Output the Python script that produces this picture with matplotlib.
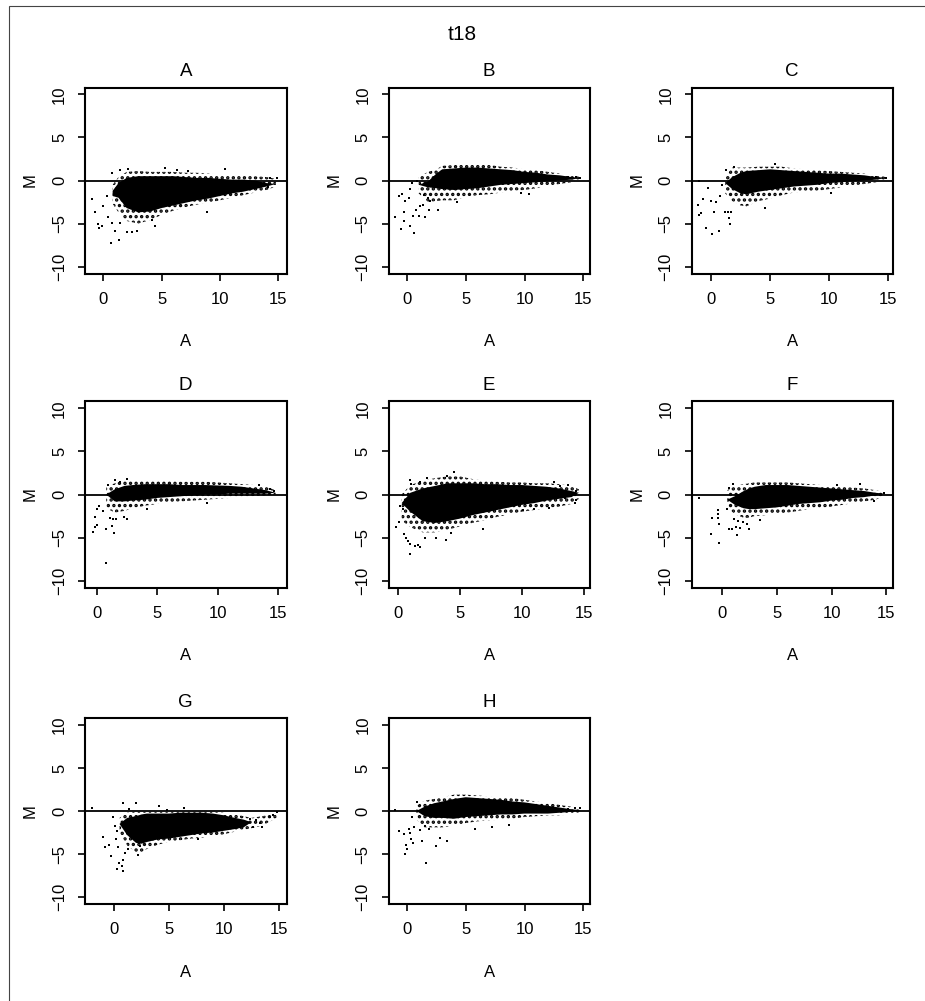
import matplotlib
matplotlib.use("Agg")
import matplotlib.pyplot as plt
from matplotlib.patches import Rectangle

plt.rcParams['font.family'] = ['Liberation Sans', 'DejaVu Sans']
plt.rcParams['hatch.linewidth'] = 1.6

TITLE = "t18"
PANELS = ["A", "B", "C", "D", "E", "F", "G", "H"]

# x range of each panel (R adds 4% to the data range)
x_limits = [(-1.57, 15.71), (-1.57, 15.57), (-1.66, 15.42), (-0.96, 15.7),
            (-0.76, 15.49), (-2.75, 15.6), (-2.64, 15.7), (-1.57, 15.57)]
y_limits = (-10.8, 10.8)
x_ticks = [0, 5, 10, 15]
y_ticks = [-10, -5, 0, 5, 10]

# dense core of each cloud (solid) and its sparser fringe
a_grid = [0.8, 1.3, 2, 3, 4, 5, 6, 7, 8, 9, 10, 11, 12, 13, 14, 14.8]
a_core_hi = [-1.2, -0.3, 0.3, 0.5, 0.5, 0.5, 0.5, 0.4, 0.3, 0.3, 0.2, 0.1, 0.1, 0.0, -0.3, -0.4]
a_core_lo = [-1.8, -2.0, -3.2, -3.7, -3.6, -3.2, -2.9, -2.6, -2.3, -2.1, -1.8, -1.5, -1.3, -1.0, -0.7, -0.4]
a_edge_hi = [-0.5, 0.4, 1.0, 1.1, 1.0, 1.0, 1.0, 0.9, 0.9, 0.8, 0.7, 0.6, 0.6, 0.5, 0.4, 0.2]
a_edge_lo = [-2.7, -3.7, -4.7, -5.0, -4.6, -4.0, -3.5, -3.1, -2.8, -2.6, -2.3, -2.0, -1.7, -1.4, -1.1, -0.7]
a_out_x = [-1.0, -0.71, -0.43, -0.34, -0.14, 0, 0.43, 0.63, 1.37, 0.29, 0.71, 1.0, 1.43, 2.0, 2.43, 2.86,
           4.43, 4.14, 8.86, 0.71, 1.43, 2.14, 5.3, 6.3, 7.3, 10.4, 14.3, 14.86, 14.14, 13.6]
a_out_y = [-2.2, -3.6, -5.1, -5.5, -5.3, -3.0, -4.2, -7.3, -6.9, -1.85, -4.9, -5.9, -4.9, -6.0, -6.0, -5.9,
           -5.3, -4.6, -3.6, 0.85, 1.2, 1.35, 1.4, 1.2, 1.15, 1.35, 0.3, 0.3, -0.7, -0.5]

b_grid = [1.0, 1.8, 2.5, 3, 4, 5, 6, 7, 8, 9, 10, 11, 12, 13, 14, 14.8]
b_core_hi = [-0.5, -0.1, 0.8, 1.3, 1.4, 1.5, 1.5, 1.4, 1.3, 1.2, 1.0, 0.9, 0.7, 0.6, 0.4, 0.3]
b_core_lo = [-0.5, -0.8, -0.9, -1.0, -1.1, -1.0, -0.9, -0.7, -0.5, -0.4, -0.3, -0.2, -0.1, 0.0, 0.1, 0.3]
b_edge_hi = [0.4, 1.0, 1.3, 1.7, 1.8, 1.9, 1.9, 1.8, 1.6, 1.5, 1.3, 1.2, 1.0, 0.8, 0.6, 0.4]
b_edge_lo = [-1.5, -2.5, -2.4, -2.3, -2.3, -1.9, -1.7, -1.6, -1.4, -1.2, -1.1, -0.9, -0.6, -0.4, -0.2, 0.1]
b_out_x = [-1.0, -0.71, -0.43, -0.29, -0.51, -0.29, -0.14, 0.14, 0.29, 0.29, 0.63, 0.51, 0.8, 1.0, 1.14,
           1.37, 1.57, 1.86, 2.66, 0.43, 0.86, 1.43, 1.77, 2.0, 4.29, 9.7, 10.4, 13.7, 14.4, 14.7]
b_out_y = [-4.2, -1.8, -1.55, -3.7, -5.6, -4.7, -2.4, -2.05, -1.0, -5.3, -6.1, -4.1, -3.4, -4.1, -3.0,
           -2.9, -4.2, -3.4, -3.4, -0.3, -0.1, -1.7, -2.05, -2.4, -2.5, -1.5, -1.55, 0.35, 0.45, 0.3]

c_grid = [1.2, 1.8, 2.5, 3, 4, 5, 6, 7, 8, 9, 10, 11, 12, 13, 14, 14.9]
c_core_hi = [-0.3, 0.4, 0.9, 1.1, 1.2, 1.3, 1.2, 1.1, 1.0, 0.9, 0.8, 0.8, 0.7, 0.6, 0.4, 0.3]
c_core_lo = [-0.3, -1.0, -1.5, -1.6, -1.3, -1.1, -0.9, -0.7, -0.6, -0.5, -0.3, -0.2, -0.1, 0.0, 0.1, 0.3]
c_edge_hi = [0.5, 1.5, 1.5, 1.5, 1.6, 1.6, 1.6, 1.4, 1.3, 1.2, 1.1, 1.0, 0.9, 0.8, 0.6, 0.4]
c_edge_lo = [-1.5, -2.4, -2.9, -3.0, -2.4, -2.1, -1.7, -1.4, -1.3, -1.2, -1.0, -0.8, -0.6, -0.4, -0.2, 0.1]
c_out_x = [-1.09, -1.0, -0.86, -0.71, -1.0, -0.23, -0.43, 0.11, 0.26, 0, 0.43, 0.77, 0.71, 0.91, 1.2,
           1.4, 1.49, 1.57, 1.69, 1.29, 1.91, 4.6, 10.2, 14.0, 14.8, 5.4]
c_out_y = [-2.9, -4.0, -3.8, -2.2, -0.1, -0.9, -5.5, -6.2, -3.7, -2.4, -2.5, -1.85, -5.9, -0.5, -3.7,
           -3.6, -4.4, -5.0, -3.6, 1.2, 1.6, -3.2, -1.5, 0.45, 0.3, 1.9]

d_grid = [0.8, 1.5, 2.3, 3, 4, 5, 6, 7, 8, 9, 10, 11, 12, 13, 14, 14.8]
d_core_hi = [0.0, 0.6, 1.0, 1.1, 1.2, 1.2, 1.2, 1.1, 1.1, 1.1, 1.05, 1.0, 0.9, 0.7, 0.5, 0.2]
d_core_lo = [0.0, -0.8, -0.8, -0.7, -0.6, -0.4, -0.3, -0.2, -0.1, 0.0, 0.0, 0.1, 0.1, 0.1, 0.1, 0.2]
d_edge_hi = [0.9, 1.3, 1.7, 1.6, 1.6, 1.6, 1.6, 1.5, 1.5, 1.5, 1.4, 1.3, 1.2, 1.1, 0.9, 0.5]
d_edge_lo = [-1.6, -2.1, -1.9, -1.6, -1.3, -1.1, -0.9, -0.8, -0.7, -0.6, -0.5, -0.4, -0.3, -0.2, -0.1, 0.0]
d_out_x = [-0.33, -0.14, 0.06, -0.14, 0.22, 0, 0.55, 0.77, 0.77, 1.1, 1.24, 1.38, 1.43, 1.6, 2.26,
           2.53, 0.96, 1.5, 1.93, 2.53, 4.13, 9.09, 13.4, 14.3, 14.7]
d_out_y = [-4.3, -3.8, -3.5, -2.6, -1.3, -1.7, -1.9, -7.9, -4.0, -2.7, -3.65, -2.9, -4.5, -2.9, -2.6,
           -2.8, 1.15, 1.7, 1.5, 1.75, -1.7, -0.95, 1.15, 0.6, 0.4]

e_grid = [0.3, 1.0, 2.0, 3, 4, 5, 6, 7, 8, 9, 10, 11, 12, 13, 14, 14.6]
e_core_hi = [-1.0, 0.2, 0.7, 1.0, 1.3, 1.3, 1.3, 1.2, 1.2, 1.1, 1.1, 1.0, 0.9, 0.7, 0.4, 0.2]
e_core_lo = [-1.0, -2.0, -3.1, -3.3, -3.1, -2.8, -2.4, -2.1, -1.8, -1.5, -1.2, -1.0, -0.7, -0.5, -0.3, 0.2]
e_edge_hi = [0.0, 1.1, 1.6, 1.9, 2.1, 2.1, 1.8, 1.6, 1.5, 1.4, 1.4, 1.3, 1.3, 1.2, 1.0, 0.6]
e_edge_lo = [-3.0, -3.8, -4.4, -4.4, -4.1, -3.7, -3.3, -3.0, -2.6, -2.3, -2.0, -1.8, -1.6, -1.4, -1.1, -0.5]
e_out_x = [-0.19, 0.08, 0.19, 0.41, 0.46, 0.68, 0.82, 0.95, 1.0, 1.36, 1.63, 1.77, 2.17, 3.07, 3.89,
           4.27, 6.88, 0.95, 1.09, 1.82, 2.36, 3.94, 4.54, 10.05, 11.0, 12.2, 12.6, 13.1, 13.45, 13.7,
           14.4, 14.4, 14.3, 12.6]
e_out_y = [-3.8, -3.2, -1.35, -1.7, -4.6, -5.1, -5.4, -6.9, -5.7, -6.0, -5.85, -6.15, -5.1, -5.1, -5.3,
           -4.5, -4.0, 1.65, 1.2, 1.45, 1.9, 2.2, 2.6, -1.75, -1.7, -1.55, -0.4, 0.95, -0.4, 1.1,
           0.4, -0.6, -1.0, 1.5]

f_grid = [0.5, 1.2, 2.0, 2.5, 3, 4, 5, 6, 7, 8, 9, 10, 11, 12, 13, 14, 14.8]
f_core_hi = [-0.6, -0.2, 0.4, 0.7, 0.9, 1.1, 1.1, 1.1, 1.0, 0.9, 0.8, 0.7, 0.6, 0.5, 0.4, 0.2, 0.1]
f_core_lo = [-0.6, -1.2, -1.6, -1.7, -1.7, -1.6, -1.5, -1.3, -1.1, -1.0, -0.9, -0.7, -0.6, -0.4, -0.3, -0.1, 0.1]
f_edge_hi = [0.5, 1.0, 1.2, 1.3, 1.4, 1.4, 1.4, 1.4, 1.3, 1.2, 1.1, 1.0, 0.9, 0.8, 0.7, 0.5, 0.3]
f_edge_lo = [-1.5, -2.3, -2.7, -2.7, -2.5, -2.4, -2.3, -2.1, -1.9, -1.7, -1.6, -1.4, -1.2, -1.0, -0.8, -0.6, -0.2]
f_out_x = [-2.05, -0.92, -1.0, -0.31, -0.31, -0.31, -0.21, -0.21, 0.52, 0.7, 0.92, 1.13, 1.31, 1.38,
           1.53, 1.68, 1.93, 2.29, 2.45, 3.46, 0.7, 1.0, 10.5, 12.6, 13.9, 14.4, 14.8]
f_out_y = [-0.4, -2.7, -4.6, -1.85, -2.3, -2.7, -3.4, -5.6, -1.7, -4.0, -4.0, -2.8, -3.8, -4.7,
           -3.1, -3.85, -3.2, -3.4, -4.0, -3.0, 0.75, 1.2, 1.05, 1.25, -0.8, 0, 0.2]

g_grid = [0.5, 1.2, 2.0, 2.5, 3, 4, 5, 6, 7, 8, 9, 10, 11, 11.8, 12.5, 13.5, 14.8]
g_core_hi = [-1.5, -0.8, -0.6, -0.4, -0.3, -0.3, -0.3, -0.2, -0.2, -0.2, -0.3, -0.5, -0.8, -1.0, -1.3, -1.3, -1.3]
g_core_lo = [-1.5, -2.8, -3.7, -3.8, -3.6, -3.3, -3.2, -3.0, -2.8, -2.6, -2.5, -2.3, -2.1, -1.9, -1.3, -1.3, -1.3]
g_edge_hi = [-0.8, -0.2, -0.1, -0.1, -0.1, -0.1, -0.1, -0.1, -0.1, -0.1, -0.1, -0.2, -0.4, -0.6, -0.8, -0.6, -0.3]
g_edge_lo = [-2.5, -4.0, -4.8, -4.8, -4.4, -3.9, -3.6, -3.4, -3.2, -3.1, -2.9, -2.7, -2.4, -2.2, -2.0, -1.7, -0.8]
g_out_x = [-2.03, -0.97, -0.82, -0.42, -0.3, -0.12, 0.09, 0.18, 0.3, 0.39, 0.48, 0.3, 0.7, 0.85, 0.79,
           1.0, 1.3, 2.21, 2.36, 0.85, 2.0, 1.39, 4.12, 6.36, 4.85, 11.45, 12.36, 12.9, 13.27, 14.18,
           14.5, 14.85, 13.5, 12.67, 7.67]
g_out_y = [0.3, -3.0, -4.15, -3.9, -5.2, -0.75, -1.7, -3.3, -2.3, -4.15, -6.0, -6.7, -6.4, -7.0, -5.7,
           -4.85, -4.4, -5.15, -4.05, 0.9, 0.9, 0.25, 0.55, 0.4, 0.15, -1.3, -0.95, -1.0, -1.35, -0.75,
           -0.45, -0.15, -1.9, -1.8, -3.3]

h_grid = [0.8, 1.5, 2.3, 3, 4, 5, 6, 7, 8, 9, 10, 11, 12, 13, 14, 14.8]
h_core_hi = [0.0, 0.5, 0.9, 1.1, 1.4, 1.6, 1.5, 1.4, 1.3, 1.1, 1.0, 0.8, 0.6, 0.4, 0.2, 0.1]
h_core_lo = [0.0, -0.6, -0.8, -0.8, -0.9, -0.7, -0.6, -0.5, -0.4, -0.4, -0.3, -0.3, -0.3, -0.2, -0.1, 0.1]
h_edge_hi = [0.6, 1.2, 1.4, 1.6, 1.9, 1.9, 1.8, 1.7, 1.6, 1.5, 1.3, 1.1, 0.9, 0.7, 0.5, 0.3]
h_edge_lo = [-1.0, -1.9, -1.9, -1.9, -1.7, -1.4, -1.2, -1.1, -1.0, -0.9, -0.7, -0.6, -0.5, -0.5, -0.4, -0.1]
h_out_x = [-1.0, -0.71, -0.23, -0.06, -0.14, 0, 0.14, 0.23, 0.34, 0.51, 0.43, 0.63, 1.14, 1.29, 1.57,
           1.66, 1.86, 2.51, 2.8, 3.43, 5.77, 7.2, 8.71, 0.86, 13.1, 13.7, 14.3, 14.7]
h_out_y = [0.1, -2.3, -2.7, -3.9, -5.0, -4.4, -2.1, -2.6, -3.3, -3.7, -0.75, -1.9, -2.2, -3.5, -1.7,
           -6.0, -2.1, -4.05, -3.1, -3.5, -2.1, -1.9, -1.65, 1.0, 0.05, 0.25, 0.3, 0.3]

clouds = [
    (a_grid, a_core_lo, a_core_hi, a_edge_lo, a_edge_hi, a_out_x, a_out_y),
    (b_grid, b_core_lo, b_core_hi, b_edge_lo, b_edge_hi, b_out_x, b_out_y),
    (c_grid, c_core_lo, c_core_hi, c_edge_lo, c_edge_hi, c_out_x, c_out_y),
    (d_grid, d_core_lo, d_core_hi, d_edge_lo, d_edge_hi, d_out_x, d_out_y),
    (e_grid, e_core_lo, e_core_hi, e_edge_lo, e_edge_hi, e_out_x, e_out_y),
    (f_grid, f_core_lo, f_core_hi, f_edge_lo, f_edge_hi, f_out_x, f_out_y),
    (g_grid, g_core_lo, g_core_hi, g_edge_lo, g_edge_hi, g_out_x, g_out_y),
    (h_grid, h_core_lo, h_core_hi, h_edge_lo, h_edge_hi, h_out_x, h_out_y),
]

W, H = 925, 1001
fig = plt.figure(figsize=(W / 100, H / 100), dpi=100)

# pixel layout of the plot boxes
col_left = [85, 388.5, 691.5]
row_top = [87.5, 401.5, 718]
box_w, box_h = 201.5, 186

fig.patches.append(Rectangle((9 / W, -0.1), 1.2, 1 - 6 / H + 0.1, transform=fig.transFigure,
                             fill=False, edgecolor="#444444", linewidth=0.8))
fig.text(0.5, 1 - 34 / H, TITLE, ha="center", va="center", fontsize=15)

for i, name in enumerate(PANELS):
    r, c = divmod(i, 3)
    ax = fig.add_axes([col_left[c] / W, 1 - (row_top[r] + box_h) / H, box_w / W, box_h / H])
    grid, core_lo, core_hi, edge_lo, edge_hi, ox, oy = clouds[i]

    # fringe as stipple, core as solid black
    ax.fill_between(grid, edge_lo, edge_hi, facecolor="none", edgecolor="black",
                    hatch="...", linewidth=0)
    ax.fill_between(grid, core_lo, core_hi, facecolor="black", linewidth=0)
    ax.scatter(ox, oy, s=3, marker="s", color="black", linewidths=0)
    ax.axhline(0, color="black", linewidth=1.3)

    ax.set_xlim(*x_limits[i])
    ax.set_ylim(*y_limits)
    ax.set_xticks(x_ticks)
    ax.set_yticks(y_ticks)
    ax.set_xticklabels([str(t) for t in x_ticks])
    ax.set_yticklabels([str(t).replace("-", "\u2212") for t in y_ticks], rotation=90, va="center")
    ax.tick_params(direction="out", length=5, width=1.2, labelsize=12, pad=8)
    for sp in ax.spines.values():
        sp.set_linewidth(1.5)
    ax.set_title(name, fontsize=13.5, pad=8)
    ax.set_xlabel("A", fontsize=12, labelpad=20)
    ax.set_ylabel("M", fontsize=12, labelpad=10)

fig.savefig("out.png", dpi=100)
